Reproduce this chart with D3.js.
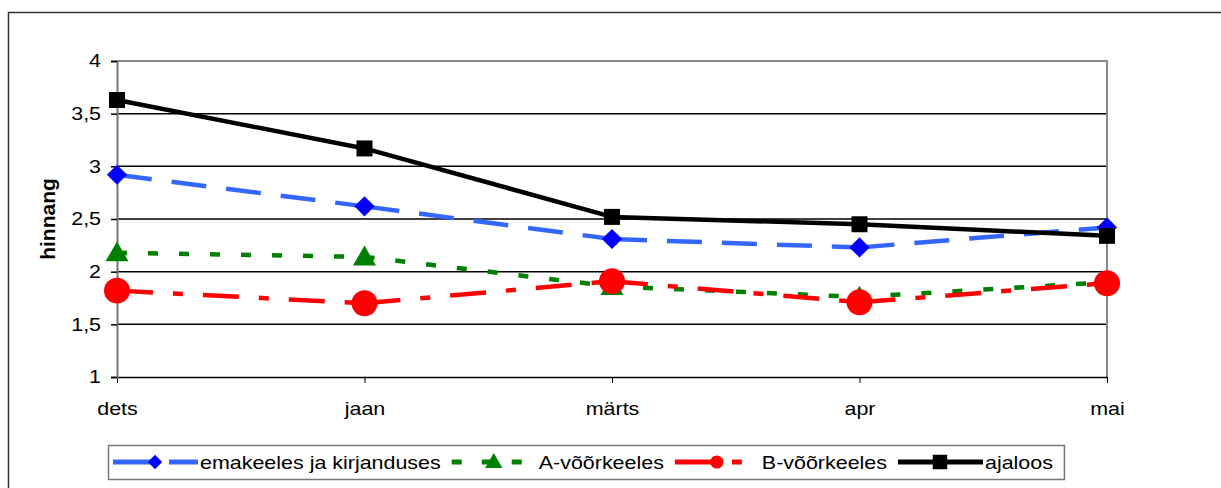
<!DOCTYPE html>
<html>
<head>
<meta charset="utf-8">
<script src="https://cdn.jsdelivr.net/npm/d3@7"></script>
<style>
  body { margin: 0; background: #fff; }
  svg { font-family: "Liberation Sans", Arial, sans-serif; }
</style>
</head>
<body>
<div id="chart"></div>
<script>
// Data
var months = ["dets", "jaan", "märts", "apr", "mai"];
var yTicks = [1, 1.5, 2, 2.5, 3, 3.5, 4];
var emakeeles = [2.92, 2.62, 2.31, 2.23, 2.42];
var aVoor = [2.18, 2.14, 1.86, 1.76, 1.90];
var bVoor = [1.82, 1.70, 1.91, 1.71, 1.89];
var ajaloos = [3.63, 3.17, 2.52, 2.45, 2.34];

var series = [
  {name: "emakeeles ja kirjanduses", values: emakeeles, color: "#3366ff", mark: "#0000ff", dash: "35,20", ldash: "46,10", symbol: d3.symbolDiamond2, size: 260, lsize: 130},
  {name: "A-võõrkeeles", values: aVoor, color: "#008000", mark: "#008000", dash: "10,21", ldash: "10,20", symbol: d3.symbolTriangle, size: 230, lsize: 130},
  {name: "B-võõrkeeles", values: bVoor, color: "#ff0000", mark: "#ff0000", dash: "36,20,10,20", ldash: "48,9,10,20", symbol: d3.symbolCircle, size: 530, lsize: 135},
  {name: "ajaloos", values: ajaloos, color: "#000000", mark: "#000000", dash: null, ldash: null, symbol: d3.symbolSquare, size: 256, lsize: 210}
];

var W = 1221, H = 488;
var FS = 18.5, SX = 1.16;   // text in the picture is stretched sideways
var margin = {top: 61, right: 114, bottom: 111, left: 117},
    width = W - margin.left - margin.right,
    height = H - margin.top - margin.bottom;

var svg = d3.select("#chart").append("svg")
    .attr("width", W).attr("height", H);

// stretch a text element horizontally around its own anchor point
function stretch(sel) {
  sel.each(function () {
    var t = d3.select(this);
    var x0 = +t.attr("x") || 0;
    t.attr("x", x0 / SX)
     .attr("transform", (t.attr("transform") || "") + " scale(" + SX + ",1)")
     .attr("font-size", FS).attr("fill", "#000")
     .attr("font-family", "Liberation Sans, Arial, sans-serif");
  });
}

// outer frame
svg.append("rect")
    .attr("x", 8.5).attr("y", 12.5)
    .attr("width", W + 20).attr("height", H + 20)
    .attr("fill", "none").attr("stroke", "#333").attr("stroke-width", 1.5);

var g = svg.append("g")
    .attr("transform", "translate(" + margin.left + "," + margin.top + ")");

var x = d3.scalePoint().domain(months).range([0, width]);
var y = d3.scaleLinear().domain([1, 4]).range([height, 0]);

// grid lines
g.selectAll(".grid").data(yTicks.filter(function (d) { return d > 1 && d < 4; }))
  .enter().append("line")
    .attr("x1", 0).attr("x2", width)
    .attr("y1", function (d) { return y(d); })
    .attr("y2", function (d) { return y(d); })
    .attr("stroke", "#000").attr("stroke-width", 1.5);

// plot area top / right border
g.append("path")
    .attr("d", "M0," + y(4) + "H" + width + "V" + height)
    .attr("fill", "none").attr("stroke", "#888").attr("stroke-width", 2);

var fmt = function (d) { return String(d).replace(".", ","); };

var xAxis = g.append("g")
    .attr("transform", "translate(0," + height + ")")
    .call(d3.axisBottom(x).tickSize(6).tickSizeOuter(0).tickPadding(19));
xAxis.select(".domain").attr("stroke", "#000").attr("stroke-width", 1.5);
xAxis.selectAll(".tick line").attr("stroke", "#000").attr("stroke-width", 1);
xAxis.selectAll("text").call(stretch);

var yAxis = g.append("g")
    .call(d3.axisLeft(y).tickValues(yTicks).tickFormat(fmt).tickSize(6).tickPadding(10));
yAxis.select(".domain").attr("stroke", "#777").attr("stroke-width", 2);
yAxis.selectAll(".tick line").attr("stroke", "#000").attr("stroke-width", 1.5);
yAxis.selectAll("text").call(stretch);

// y axis title
svg.append("text")
    .attr("transform", "translate(55,219) rotate(-90)")
    .attr("text-anchor", "middle")
    .attr("font-size", 21).attr("font-weight", "bold")
    .text("hinnang");

// lines: each segment restarts its dash pattern
series.forEach(function (s) {
  var pts = s.values.map(function (v, i) { return [x(months[i]), y(v)]; });
  for (var i = 0; i < pts.length - 1; i++) {
    g.append("line")
      .attr("x1", pts[i][0]).attr("y1", pts[i][1])
      .attr("x2", pts[i + 1][0]).attr("y2", pts[i + 1][1])
      .attr("stroke", s.color).attr("stroke-width", 4.5)
      .attr("stroke-dasharray", s.dash);
  }
});

// markers
series.forEach(function (s) {
  g.selectAll(null).data(s.values).enter().append("path")
    .attr("transform", function (d, i) {
      var dy = s.symbol === d3.symbolTriangle ? 2 : 0;
      return "translate(" + x(months[i]) + "," + (y(d) + dy) + ")";
    })
    .attr("d", d3.symbol().type(s.symbol).size(s.size))
    .attr("fill", s.mark);
});

// legend
var legend = svg.append("g");
var box = legend.append("rect")
    .attr("x", 108.5).attr("y", 445.5).attr("height", 34)
    .attr("fill", "#fff").attr("stroke", "#777").attr("stroke-width", 1.5);

var lx = 113, ly = 462;
series.forEach(function (s) {
  legend.append("line")
    .attr("x1", lx).attr("x2", lx + 85)
    .attr("y1", ly).attr("y2", ly)
    .attr("stroke", s.color).attr("stroke-width", 5)
    .attr("stroke-dasharray", s.ldash);
  legend.append("path")
    .attr("transform", "translate(" + (lx + 42) + "," + (ly + (s.symbol === d3.symbolTriangle ? 1 : 0)) + ")")
    .attr("d", d3.symbol().type(s.symbol).size(s.lsize))
    .attr("fill", s.mark);
  var t = legend.append("text")
    .attr("transform", "translate(" + (lx + 87) + "," + (ly + 6.5) + ")")
    .text(s.name)
    .call(stretch);
  lx = lx + 87 + t.node().getComputedTextLength() * SX + 11;
});
box.attr("width", lx - 108);
</script>
</body>
</html>
